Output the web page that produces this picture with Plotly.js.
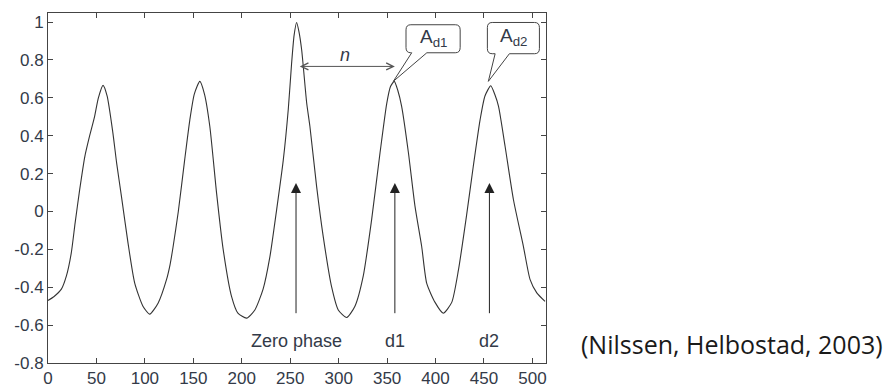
<!DOCTYPE html>
<html>
<head>
<meta charset="utf-8">
<script src="https://cdn.plot.ly/plotly-3.0.1.min.js"></script>
<style>html,body{margin:0;padding:0;background:#fff;}#chart{width:889px;height:388px;}</style>
</head>
<body>
<div id="chart"></div>
<script>
// Autocorrelation curve
const lagX = [0, 6, 13.8, 19, 24, 28, 32.7, 38, 43, 48, 52, 56.8, 61, 67, 71, 75.8, 82.6, 89.5, 98, 105, 113.6, 122.3, 126, 129, 134.5, 141, 146.4, 151, 156.7, 161.5, 167, 174, 180.8, 189.5, 196, 205, 213.5, 222, 229, 236, 242.8, 248, 251.4, 254, 256.6, 259, 261.8, 267, 270.3, 277.3, 284, 292.8, 299.6, 308.3, 316.8, 325.4, 334, 342.7, 349.6, 353.5, 357.4, 361, 365, 372, 378.8, 385.7, 390.9, 399.5, 408, 416.7, 423.6, 432.3, 439, 446, 451, 457, 461, 465, 471.8, 480.4, 490.7, 497.6, 504.5, 513];
const corrY = [-0.47, -0.45, -0.41, -0.34, -0.22, -0.06, 0.115, 0.29, 0.40, 0.50, 0.60, 0.666, 0.61, 0.414, 0.25, 0.08, -0.167, -0.378, -0.50, -0.542, -0.484, -0.36, -0.28, -0.19, 0.0, 0.27, 0.484, 0.62, 0.687, 0.62, 0.45, 0.097, -0.20, -0.45, -0.537, -0.563, -0.52, -0.41, -0.24, 0.01, 0.27, 0.54, 0.78, 0.93, 0.998, 0.95, 0.854, 0.573, 0.45, 0.13, -0.13, -0.40, -0.52, -0.56, -0.50, -0.34, -0.044, 0.31, 0.57, 0.66, 0.687, 0.64, 0.555, 0.31, 0.027, -0.185, -0.38, -0.48, -0.537, -0.48, -0.31, -0.01, 0.24, 0.485, 0.61, 0.664, 0.62, 0.555, 0.343, 0.062, -0.185, -0.36, -0.43, -0.475];

// Marker positions and labels
const markerX = [256, 358, 455.6];
const markerLabels = ['Zero phase', 'd1', 'd2'];
const calloutLabels = ['A<sub>d1</sub>', 'A<sub>d2</sub>'];
const calloutPeakX = [356.4, 454.5];
const calloutPeakY = [0.687, 0.687];
const nLabel = 'n';
const citation = '(Nilssen, Helbostad, 2003)';

const textColor = '#333a48';

const trace = {
  x: lagX, y: corrY, type: 'scatter', mode: 'lines',
  line: {color: '#333', width: 1.1, shape: 'spline', smoothing: 0.6},
  hoverinfo: 'skip'
};

const annotations = [];
markerX.forEach((mx, i) => {
  annotations.push({
    x: mx, y: 0.15, ax: mx, ay: -0.545, xref: 'x', yref: 'y', axref: 'x', ayref: 'y',
    text: '', showarrow: true, arrowhead: 2, arrowsize: 2, arrowwidth: 1, arrowcolor: '#222', standoff: 0
  });
  annotations.push({
    x: mx, y: -0.685, xref: 'x', yref: 'y', text: markerLabels[i], showarrow: false,
    font: {family: 'Liberation Sans, Arial', size: 18, color: textColor}
  });
});
// n double arrow
annotations.push({
  x: 358, y: 0.766, ax: 258.3, ay: 0.766, xref: 'x', yref: 'y', axref: 'x', ayref: 'y',
  text: '', showarrow: true, arrowhead: 5, startarrowhead: 5, arrowside: 'end+start',
  arrowsize: 1.4, startarrowsize: 1.4, arrowwidth: 1, arrowcolor: '#555', standoff: 0, startstandoff: 0
});
annotations.push({
  x: 306.5, y: 0.825, xref: 'x', yref: 'y', text: '<i>' + nLabel + '</i>', showarrow: false,
  font: {family: 'Liberation Sans, Arial', size: 18, color: textColor}
});
// callout bubbles
const boxes = [
  {x0: 369.5, x1: 425.4, y0: 0.838, y1: 0.986, b0: 375.4, b1: 391},
  {x0: 453.5, x1: 507.2, y0: 0.833, y1: 0.998, b0: 461.5, b1: 476.2}
];
const shapes = [];
boxes.forEach((b, i) => {
  const rx = 5, ry = 0.027;
  const tx = calloutPeakX[i], ty = calloutPeakY[i];
  const p = `M${b.x0 + rx},${b.y1} L${b.x1 - rx},${b.y1} Q${b.x1},${b.y1} ${b.x1},${b.y1 - ry} ` +
    `L${b.x1},${b.y0 + ry} Q${b.x1},${b.y0} ${b.x1 - rx},${b.y0} L${b.b1},${b.y0} L${tx},${ty} L${b.b0},${b.y0} ` +
    `L${b.x0 + rx},${b.y0} Q${b.x0},${b.y0} ${b.x0},${b.y0 + ry} L${b.x0},${b.y1 - ry} Q${b.x0},${b.y1} ${b.x0 + rx},${b.y1} Z`;
  shapes.push({type: 'path', xref: 'x', yref: 'y', path: p, line: {color: '#444', width: 1}, fillcolor: 'rgba(255,255,255,1)'});
  annotations.push({
    x: (b.x0 + b.x1) / 2, y: (b.y0 + b.y1) / 2 + 0.005, xref: 'x', yref: 'y', text: calloutLabels[i], showarrow: false,
    font: {family: 'Liberation Sans, Arial', size: 19, color: textColor}
  });
});
annotations.push({
  x: 1.066, y: 0.054, xref: 'paper', yref: 'paper', xanchor: 'left', yanchor: 'middle',
  text: citation, showarrow: false, font: {family: 'Open Sans', size: 25, color: '#1a1a1a'}
});

const axisCommon = {
  showgrid: false, zeroline: false, showline: true, linecolor: '#444', linewidth: 1,
  mirror: 'ticks', ticks: 'inside', ticklen: 5, tickcolor: '#444',
  tickfont: {family: 'Liberation Sans, Arial', size: 17, color: textColor}
};

const layout = {
  width: 889, height: 388,
  margin: {l: 48, r: 343, t: 13, b: 25},
  paper_bgcolor: '#fff', plot_bgcolor: '#fff',
  showlegend: false,
  xaxis: Object.assign({}, axisCommon, {range: [0, 514], ticklabelstandoff: 0, tickvals: [0, 50, 100, 150, 200, 250, 300, 350, 400, 450, 500]}),
  yaxis: Object.assign({}, axisCommon, {range: [-0.8, 1.048], tickvals: [-0.8, -0.6, -0.4, -0.2, 0, 0.2, 0.4, 0.6, 0.8, 1], ticktext: ['-0.8', '-0.6', '-0.4', '-0.2', '0', '0.2', '0.4', '0.6', '0.8', '1']}),
  annotations: annotations,
  shapes: shapes
};

Plotly.newPlot('chart', [trace], layout, {displayModeBar: false, staticPlot: true});
</script>
</body>
</html>
